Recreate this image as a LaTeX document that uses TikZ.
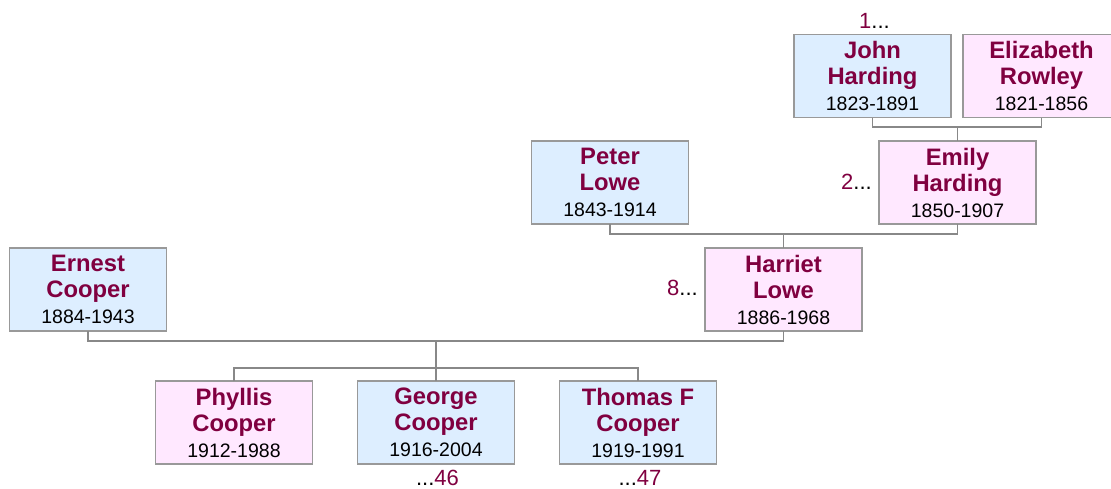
\documentclass[tikz,border=0pt]{standalone}
\usepackage{fontspec}
\setmainfont{Liberation Sans}
\definecolor{namec}{HTML}{800040}
\definecolor{mfill}{HTML}{DDEEFF}
\definecolor{ffill}{HTML}{FFE8FF}
\definecolor{bordc}{HTML}{999999}
\definecolor{linec}{HTML}{888888}
\tikzset{
  person/.style={draw=bordc, line width=1.3pt, minimum width=157pt, minimum height=83pt,
    inner sep=0pt, outer sep=0pt, align=center,
    font=\fontsize{23.8}{26}\selectfont},
  male/.style={person, fill=mfill},
  female/.style={person, fill=ffill},
  conn/.style={draw=linec, line width=1.2pt},
  lbl/.style={inner sep=0pt, font=\fontsize{22}{24}\selectfont}
}
\newcommand{\pname}[2]{\textcolor{namec}{\bfseries #1}\\\textcolor{namec}{\bfseries #2}}
\newcommand{\pdate}[1]{{\fontsize{19.5}{26}\selectfont #1}}
\begin{document}
\begin{tikzpicture}[x=1pt,y=-1pt]
\useasboundingbox (0,0) rectangle (1111,488);
\clip (0,0) rectangle (1111,488);
\fill[white] (0,0) rectangle (1111,488);
% nodes
\node[male]   (john)    at (872.5,76) {\pname{John}{Harding}\\\pdate{1823-1891}};
\node[female] (eliz)    at (1041.5,76) {\pname{Elizabeth}{Rowley}\\\pdate{1821-1856}};
\node[female] (emily)   at (957.5,182.5) {\pname{Emily}{Harding}\\\pdate{1850-1907}};
\node[male]   (peter)   at (610,182.5) {\pname{Peter}{Lowe}\\\pdate{1843-1914}};
\node[female] (harriet) at (783.5,289.5) {\pname{Harriet}{Lowe}\\\pdate{1886-1968}};
\node[male]   (ernest)  at (88,289.5) {\pname{Ernest}{Cooper}\\\pdate{1884-1943}};
\node[female] (phyllis) at (234,422.5) {\pname{Phyllis}{Cooper}\\\pdate{1912-1988}};
\node[male]   (george)  at (436,422.5) {\pname{George}{Cooper}\\\pdate{1916-2004}};
\node[male]   (thomas)  at (638,422.5) {\pname{Thomas F}{Cooper}\\\pdate{1919-1991}};
% bar levels
\coordinate (b1) at (0,127);
\coordinate (b2) at (0,234);
\coordinate (b3) at (0,341);
\coordinate (b4) at (0,368);
% connectors
\draw[conn] (john.south) |- (eliz.south |- b1) -- (eliz.south);
\draw[conn] (emily.north |- b1) -- (emily.north);
\draw[conn] (peter.south) |- (emily.south |- b2) -- (emily.south);
\draw[conn] (harriet.north |- b2) -- (harriet.north);
\draw[conn] (ernest.south) |- (harriet.south |- b3) -- (harriet.south);
\draw[conn] (george.north |- b3) -- (george.north);
\draw[conn] (phyllis.north) |- (thomas.north |- b4) -- (thomas.north);
% labels
\node[lbl, anchor=base west] (l1) at (859,28) {\textcolor{namec}{1}...};
\node[lbl, anchor=base east] (l2) at (872,189) {\textcolor{namec}{2}...};
\node[lbl, anchor=base east] (l8) at (698,295) {\textcolor{namec}{8}...};
\node[lbl, anchor=base] (l46) at (437.5,485) {...\textcolor{namec}{46}};
\node[lbl, anchor=base] (l47) at (640,485) {...\textcolor{namec}{47}};
\end{tikzpicture}
\end{document}
